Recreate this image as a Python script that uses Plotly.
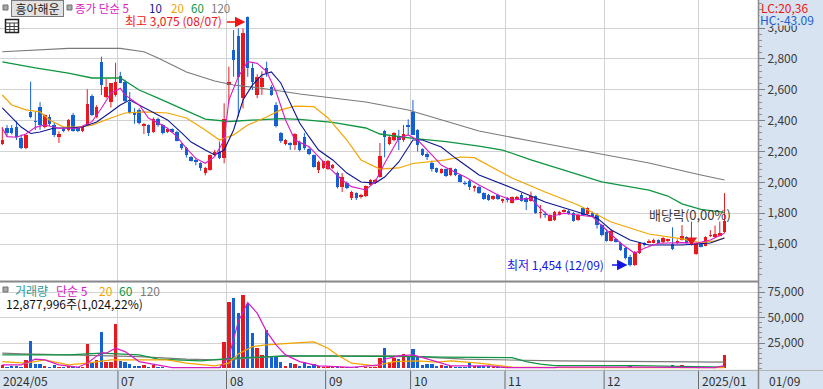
import plotly.graph_objects as go

W, H = 823, 389
def px(x): return x / W
def py(y): return 1 - y / H

# ---------------- data ----------------
opens = [2248,2352,2354,2360,2285,2220,2458,2400,2490,2357,
2421,2371,2296,2343,2339,2436,2350,2335,2371,2559,
2421,2782,2551,2522,2566,2689,2652,2522,2447,2469,
2365,2371,2328,2408,2371,2328,2343,2328,2248,2220,
2166,2145,2123,2058,2080,2177,2198,2155,2631,2857,
2948,2544,3069,2739,2566,2620,2739,2616,2501,2318,
2248,2257,2242,2263,2292,2214,2177,2080,2091,2084,
2091,2062,1972,1998,1896,1929,1903,1911,1983,1998,
2037,2335,2248,2274,2300,2274,2371,2458,2339,2214,
2183,2127,2091,2062,2084,2047,2084,2047,1998,2011,
1961,1972,1929,1918,1890,1918,1881,1896,1868,1894,
1918,1900,1881,1911,1800,1795,1751,1756,1788,1810,
1816,1803,1756,1831,1795,1803,1788,1723,1680,1622,
1630,1609,1572,1518,1465,1540,1609,1609,1609,1624,
1611,1617,1600,1607,1626,1643,1596,1535,1600,1590,
1650,1648,1655,1678]
highs = [2358,2371,2370,2396,2310,2310,2652,2458,2520,2440,
2440,2390,2330,2350,2410,2450,2360,2362,2603,2570,
2500,2814,2670,2641,2775,2716,2665,2585,2480,2480,
2385,2375,2420,2420,2378,2350,2350,2335,2255,2230,
2170,2160,2130,2100,2180,2210,2264,2512,2750,2987,
2998,2998,3075,2771,2700,2720,2782,2630,2520,2325,
2280,2260,2318,2270,2320,2230,2180,2140,2140,2145,
2118,2070,2060,2005,1945,1935,1925,1980,2020,2022,
2255,2340,2300,2325,2340,2371,2408,2533,2345,2220,
2195,2140,2095,2090,2090,2095,2090,2050,2010,2015,
1980,1978,1935,1925,1915,1925,1895,1905,1908,1912,
1932,1905,1940,1915,1853,1810,1792,1815,1815,1825,
1822,1808,1795,1838,1838,1810,1800,1730,1690,1695,
1640,1615,1580,1530,1555,1612,1612,1630,1635,1630,
1645,1635,1708,1630,1723,1650,1745,1610,1605,1650,
1690,1720,1745,1930]
lows = [2242,2294,2310,2274,2215,2215,2415,2339,2340,2350,
2365,2294,2255,2325,2330,2328,2325,2325,2371,2430,
2415,2566,2545,2485,2555,2642,2520,2445,2380,2375,
2313,2300,2320,2360,2310,2320,2320,2265,2210,2160,
2135,2110,2075,2045,2075,2170,2150,2123,2512,2684,
2425,2479,2684,2598,2545,2566,2684,2560,2355,2255,
2240,2210,2210,2200,2210,2175,2095,2060,2085,2080,
2085,1960,1937,1955,1885,1885,1895,1905,1978,1990,
2030,2162,2240,2265,2209,2263,2306,2306,2200,2170,
2145,2070,2060,2055,2035,2040,2040,2000,1980,1950,
1940,1925,1885,1880,1885,1885,1865,1870,1862,1890,
1875,1820,1875,1795,1767,1770,1748,1750,1785,1805,
1790,1745,1750,1782,1790,1778,1700,1650,1615,1615,
1610,1555,1500,1454,1458,1535,1585,1605,1605,1605,
1605,1612,1561,1600,1622,1600,1590,1530,1578,1585,
1645,1640,1650,1672]
closes = [2274,2320,2318,2295,2220,2306,2421,2391,2371,2436,
2378,2306,2313,2335,2404,2335,2335,2356,2505,2436,
2490,2631,2620,2641,2652,2642,2529,2451,2436,2382,
2378,2318,2408,2371,2318,2345,2328,2270,2220,2177,
2140,2134,2091,2091,2177,2198,2155,2408,2652,2793,
2684,2965,2739,2652,2684,2674,2706,2566,2365,2270,
2274,2242,2313,2209,2220,2183,2101,2134,2138,2140,
2112,1972,2037,1961,1939,1896,1918,1976,2015,2015,
2171,2292,2296,2318,2274,2313,2360,2306,2242,2177,
2162,2084,2069,2084,2041,2091,2047,2004,1989,1972,
1976,1933,1890,1885,1911,1890,1890,1885,1903,1907,
1881,1872,1911,1800,1810,1788,1788,1810,1810,1821,
1795,1751,1788,1788,1831,1782,1723,1659,1622,1687,
1615,1561,1507,1465,1550,1609,1594,1622,1626,1609,
1637,1630,1566,1622,1652,1609,1635,1605,1583,1647,
1661,1668,1672,1750]
volumes = [3400,1200,2400,2400,1200,8400,27100,4400,4400,2500,
1200,3400,1200,1200,2500,1200,1200,1200,24100,5100,
8400,36000,6700,6700,44100,7700,6700,4400,2500,2500,
3400,1200,3400,1200,1500,800,1200,1500,800,1200,
800,600,1000,800,1200,600,1000,26400,65500,69800,
54700,72400,63500,35300,20500,13300,37900,11600,11600,6700,
2500,5000,4400,2500,6400,2500,4400,2500,1200,1000,
1500,2500,1500,1200,1500,1000,800,1500,1500,1200,
10600,20200,6700,10000,9000,14300,11600,19200,11600,3400,
4400,4400,2500,3000,2500,2500,1200,1200,1200,5100,
2500,2500,2500,2500,1200,1200,1200,900,800,900,
800,1000,900,1400,1100,800,900,800,700,800,
800,900,700,800,900,1200,900,1200,1000,900,
1200,900,1500,2000,1800,1200,900,800,700,800,
700,800,3400,900,3400,900,1000,900,700,800,
700,800,1000,12878]

# moving averages (candle index, value)
ma5_idx = [0,1,3,5,7,9,12,14,16,19,21,23,25,26,29,31,33,35,37,39,41,43,45,47,48,50,52,54,56,58,60,62,65,67,69,72,74,77,79,81,84,86,88,91,93,95,98,101,105,108,112,114,116,119,122,125,128,131,134,136,139,144,147,150,153]
ma5_val = [2350,2296,2292,2313,2356,2371,2350,2350,2350,2393,2480,2577,2609,2566,2501,2415,2386,2350,2296,2220,2155,2123,2166,2274,2533,2684,2782,2771,2717,2587,2404,2274,2231,2166,2101,2015,1972,1950,2004,2123,2285,2307,2274,2177,2112,2080,2036,1983,1918,1885,1896,1831,1777,1799,1788,1777,1691,1605,1540,1572,1605,1609,1605,1626,1669]
ma10_idx = [0,2,4,6,8,11,14,17,20,23,25,27,29,32,35,38,40,43,45,47,49,51,53,55,57,59,61,63,65,67,70,73,76,79,81,84,87,89,93,96,101,108,115,122,126,129,133,137,144,150,153]
ma10_val = [2482,2417,2358,2316,2326,2352,2352,2358,2391,2456,2501,2533,2501,2456,2404,2320,2261,2209,2177,2209,2339,2533,2631,2695,2715,2644,2514,2384,2294,2209,2145,2060,2002,1995,2034,2132,2274,2274,2229,2157,2047,1963,1872,1808,1769,1691,1626,1594,1594,1607,1639]
ma20_idx = [0,2,5,8,10,13,16,19,23,26,30,35,39,43,46,49,52,56,59,62,66,69,73,76,80,84,87,91,94,97,100,108,115,122,129,137,144,148,151,153]
ma20_val = [2566,2501,2469,2456,2404,2358,2358,2371,2417,2449,2456,2449,2417,2339,2274,2307,2371,2423,2469,2494,2491,2417,2274,2145,2086,2093,2122,2135,2145,2164,2160,2028,1937,1853,1743,1665,1633,1607,1620,1639]
ma60_idx = [0,7,14,19,25,29,33,39,43,48,53,59,63,70,77,80,87,94,101,106,112,120,127,137,141,144,148,153]
ma60_val = [2780,2741,2708,2676,2676,2598,2546,2462,2410,2394,2404,2413,2408,2388,2352,2313,2285,2263,2235,2209,2145,2067,2002,1950,1911,1860,1825,1805]
ma120_idx = [0,14,25,30,33,39,45,49,56,63,70,77,86,94,101,112,122,137,148,153]
ma120_val = [2846,2868,2868,2846,2806,2715,2657,2631,2605,2572,2546,2520,2469,2397,2332,2268,2209,2125,2047,2015]

vma5_idx = [0,4,7,9,12,16,18,21,22,24,26,29,36,46,48,50,52,54,56,58,60,63,67,74,80,81,84,87,90,93,95,103,107,117,118,134,151,152,153]
vma5_val = [3450,3450,9060,8370,3450,1180,5120,15570,14980,19900,16550,6700,800,800,11630,46110,64830,54380,36260,23150,13300,6700,2460,1000,3450,9060,12320,13300,9360,5120,2460,2460,800,800,1180,1180,800,1770,2800]
vma20_idx = [0,5,9,14,18,23,29,35,39,45,48,50,53,56,63,66,69,71,74,79,83,88,92,95,101,105,108,120,153]
vma20_val = [6700,5120,8370,3450,5120,8370,8370,8370,5120,2460,5120,14290,21480,23150,25420,26110,19900,13300,5120,2460,6700,7390,6110,7390,5120,2460,1180,800,800]
vma60_idx = [0,14,21,29,33,42,49,56,60,88,93,108,111,114,117,134,151,153]
vma60_val = [13300,13300,14980,13300,9060,7390,10050,11030,12320,11630,11030,10640,6700,4140,2760,2760,1180,1180]
vma120_idx = [0,4,14,29,39,45,49,60,84,93,98,118,141,153]
vma120_val = [14980,14290,13300,11630,9060,8370,9060,12320,12320,10050,9060,7390,6110,6110]

month_start_idx = [25, 48, 69, 87, 107, 128, 148]
month_labels = ["07", "08", "09", "10", "11", "12", "2025/01"]
first_label = "2024/05"
last_date_label = "01/09"
price_ticks = [1600, 1800, 2000, 2200, 2400, 2600, 2800, 3000]
vol_ticks = [25000, 50000, 75000]
high_idx, high_val, high_text = 52, 3075, "최고 3,075 (08/07)"
low_idx, low_val, low_text = 133, 1454, "최저 1,454 (12/09)"
div_idx, div_price, div_text = 146, 1626, "배당락(0,00%)"
lc_text, hc_text = "LC:20,36", "HC:-43,09"
name_text = "흥아해운"
vol_text = "12,877,996주(1,024,22%)"

# ---------------- style ----------------
RED = "#e8191e"
BLUE = "#1560d4"
C5, C10, C20, C60, C120 = "#d81cc4", "#0c1690", "#f2a500", "#0e9640", "#7a7a7a"
PANEL = "#d7e3f0"
GRID = "#d2d2d2"
FONT = "Noto Sans CJK KR, sans-serif"

N = len(closes)
idx = list(range(N))
up = [c >= o for o, c in zip(opens, closes)]
cols = [RED if u else BLUE for u in up]

fig = go.Figure()

# wicks
for color, flag in ((RED, True), (BLUE, False)):
    wx, wy = [], []
    for i in idx:
        if up[i] == flag:
            wx += [i, i, None]
            wy += [lows[i], highs[i], None]
    fig.add_trace(go.Scatter(x=wx, y=wy, mode="lines", line=dict(color=color, width=1),
                             hoverinfo="skip", showlegend=False, xaxis="x", yaxis="y"))
# bodies
base = [min(o, c) for o, c in zip(opens, closes)]
hgt = [max(abs(c - o), 6) for o, c in zip(opens, closes)]
fig.add_trace(go.Bar(x=idx, y=hgt, base=base, marker=dict(color=cols, line=dict(width=0)),
                     width=0.74, showlegend=False, xaxis="x", yaxis="y"))

for xs, ys, c, w in ((ma120_idx, ma120_val, C120, 1.1), (ma60_idx, ma60_val, C60, 1.3),
                     (ma20_idx, ma20_val, C20, 1.2), (ma10_idx, ma10_val, C10, 1.1),
                     (ma5_idx, ma5_val, C5, 1.1)):
    fig.add_trace(go.Scatter(x=xs, y=ys, mode="lines", line=dict(color=c, width=w),
                             hoverinfo="skip", showlegend=False, xaxis="x", yaxis="y"))

# dividend marker
fig.add_trace(go.Scatter(x=[div_idx], y=[div_price], mode="markers",
                         marker=dict(symbol="triangle-down", size=10, color=RED),
                         showlegend=False, xaxis="x", yaxis="y"))

# volume
fig.add_trace(go.Bar(x=idx, y=volumes, marker=dict(color=cols, line=dict(width=0)), width=0.72,
                     showlegend=False, xaxis="x2", yaxis="y2"))
for xs, ys, c in ((vma120_idx, vma120_val, C120), (vma60_idx, vma60_val, C60),
                  (vma20_idx, vma20_val, C20), (vma5_idx, vma5_val, C5)):
    fig.add_trace(go.Scatter(x=xs, y=ys, mode="lines", line=dict(color=c, width=1.2),
                             hoverinfo="skip", showlegend=False, xaxis="x2", yaxis="y2"))

XR = [-0.487, 160.1]
grid_x = [m - 0.5 for m in month_start_idx]
xcommon = dict(range=XR, domain=[0, 758 / W], tickvals=grid_x, showticklabels=False,
               showgrid=True, gridcolor=GRID, gridwidth=1, zeroline=False, ticks="", showline=False)

fig.update_layout(
    width=W, height=H, autosize=False,
    margin=dict(l=0, r=0, t=0, b=0),
    paper_bgcolor=PANEL, plot_bgcolor="white",
    bargap=0, showlegend=False, hovermode=False,
    font=dict(family=FONT, size=12, color="#333333"),
    xaxis=dict(anchor="y", **xcommon),
    xaxis2=dict(anchor="y2", matches="x", **xcommon),
    yaxis=dict(domain=[py(281), 1], range=[1360.3, 3181.5], side="right", anchor="x",
               tickvals=price_ticks, tickformat=",", ticks="outside", ticklen=6,
               tickcolor="#808080", showgrid=True, gridcolor=GRID, zeroline=False,
               tickfont=dict(size=12, color="#3a3a3a", family=FONT),
               minor=dict(dtick=40, ticks="outside", ticklen=3, tickcolor="#909090", showgrid=False)),
    yaxis2=dict(domain=[py(369.5), py(282.5)], range=[-1084, 84630], side="right", anchor="x2",
                tickvals=vol_ticks, tickformat=",", ticksuffix="K", ticks="outside", ticklen=6,
                tickcolor="#808080", showgrid=True, gridcolor=GRID, zeroline=False,
                tickfont=dict(size=12, color="#3a3a3a", family=FONT),
                minor=dict(dtick=5000, ticks="outside", ticklen=3, tickcolor="#909090", showgrid=False)),
)

shapes = []
# panel separator
shapes.append(dict(type="line", xref="paper", yref="paper", x0=0, x1=px(758), y0=py(281.5), y1=py(281.5),
                   line=dict(color="#8a8a8a", width=2)))
# bottom strip top border
shapes.append(dict(type="line", xref="paper", yref="paper", x0=0, x1=1, y0=py(370.5), y1=py(370.5),
                   line=dict(color="#b4b4b4", width=1)))
# right axis line
shapes.append(dict(type="line", xref="paper", yref="paper", x0=px(758.5), x1=px(758.5), y0=0, y1=1,
                   line=dict(color="#8a8a8a", width=1.5)))
# date strip separators
for g in grid_x:
    shapes.append(dict(type="line", xref="x", yref="paper", x0=g, x1=g, y0=0, y1=py(371),
                       line=dict(color="#6a6a6a", width=1)))
# small grey squares
for (x0, y0) in ((3, 5), (67, 5), (3, 287)):
    shapes.append(dict(type="rect", xref="paper", yref="paper", x0=px(x0), x1=px(x0 + 5),
                       y0=py(y0 + 5), y1=py(y0), fillcolor="#a8a8a8", line=dict(color="#707070", width=1)))
# grid icon
shapes.append(dict(type="rect", xref="paper", yref="paper", x0=px(5.5), x1=px(18.5), y0=py(32.5), y1=py(19.5),
                   fillcolor="white", line=dict(color="#202020", width=1.5)))
for yy in (23, 26.5, 29.5):
    shapes.append(dict(type="line", xref="paper", yref="paper", x0=px(5.5), x1=px(18.5), y0=py(yy), y1=py(yy),
                       line=dict(color="#404040", width=1)))
for xx in (9.8, 14.2):
    shapes.append(dict(type="line", xref="paper", yref="paper", x0=px(xx), x1=px(xx), y0=py(32.5), y1=py(23),
                       line=dict(color="#404040", width=1)))
fig.update_layout(shapes=shapes)

ann = []
def txt(x, y, s, color, size=12, anchor="left", **kw):
    ann.append(dict(xref="paper", yref="paper", x=px(x), y=py(y), text=s, showarrow=False,
                    xanchor=anchor, yanchor="middle", font=dict(family=FONT, size=size, color=color), **kw))

# header
ann.append(dict(xref="paper", yref="paper", x=px(37), y=py(8.5), text=name_text, showarrow=False,
                xanchor="center", yanchor="middle", width=49, height=13, borderpad=1,
                bgcolor="#e2e2e2", bordercolor="#7a7a7a", borderwidth=1,
                font=dict(family=FONT, size=12, color="#1a1a1a")))
txt(73, 7.5, "종가 단순 5", C5, size=11.5)
txt(147, 7.5, "10", C10, size=11.5)
txt(169, 7.5, "20", C20, size=11.5)
txt(189, 7.5, "60", C60, size=11.5)
txt(209, 7.5, "120", C120, size=11.5)
# high / low
txt(224, 20.5, high_text, "#f01414", anchor="right")
ann.append(dict(xref="x", yref="y", x=high_idx - 0.5, y=high_val - 36, ax=-20, ay=0, text="",
                showarrow=True, arrowhead=2, arrowsize=1.3, arrowwidth=1.6, arrowcolor="#f01414"))
txt(606, 264, low_text, "#1414e6", anchor="right")
ann.append(dict(xref="x", yref="y", x=low_idx - 0.55, y=low_val + 10, ax=-17, ay=0, text="",
                showarrow=True, arrowhead=2, arrowsize=1.3, arrowwidth=1.6, arrowcolor="#1414e6"))
txt(690, 214.5, div_text, "#3c3c3c", size=13, anchor="center")
# LC / HC
ann.append(dict(xref="paper", yref="paper", x=px(759), y=py(19), text=hc_text, showarrow=False,
                xanchor="left", yanchor="middle", height=11, borderpad=0, bgcolor=PANEL,
                font=dict(family=FONT, size=12, color="#1a5fd0")))
txt(759, 7.5, lc_text, "#f01414")
# volume header
txt(13, 290, "거래량", "#2a9a9a", size=12)
txt(54, 290, "단순 5", C5, size=12)
txt(97, 290, "20", C20, size=12)
txt(117, 290, "60", C60, size=12)
txt(138, 290, "120", C120, size=12)
txt(4, 303.5, vol_text, "#101010")
# date strip labels
txt(1, 380, first_label, "#303030")
for g, lab in zip(grid_x, month_labels):
    ann.append(dict(xref="x", yref="paper", x=g, y=py(380), text=lab, showarrow=False, xanchor="left",
                    yanchor="middle", xshift=1, font=dict(family=FONT, size=12, color="#303030")))
txt(767, 380, last_date_label, "#303030")
fig.update_layout(annotations=ann)

fig.write_html("out.html", config={"displayModeBar": False, "staticPlot": True},
               post_script="document.body.style.margin='0px';document.body.style.padding='0px';")
